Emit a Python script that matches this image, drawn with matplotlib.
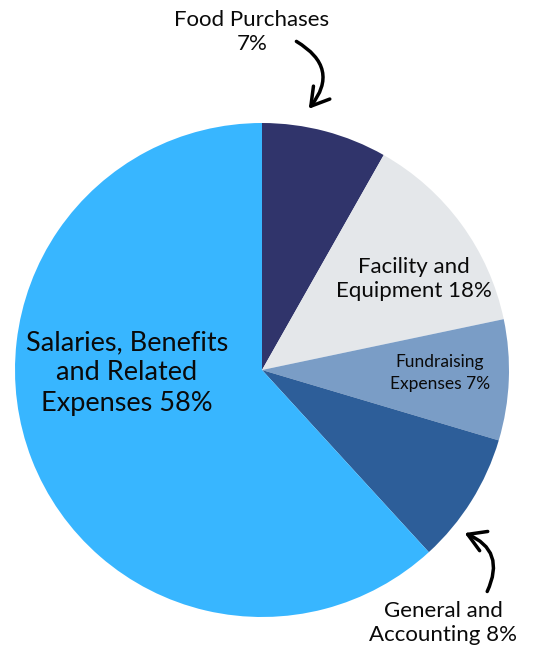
import numpy as np
import matplotlib.pyplot as plt
from matplotlib.patches import FancyArrowPatch

plt.rcParams['font.family'] = ['Lato', 'DejaVu Sans']

# slice shares as drawn (clockwise from 12 o'clock)
categories = ['Food Purchases', 'Facility and Equipment', 'Fundraising Expenses',
              'General and Accounting', 'Salaries, Benefits and Related Expenses']
shares = [8.2, 13.5, 7.9, 8.6, 61.8]
labels = ['Food Purchases\n7%', 'Facility and\nEquipment 18%', 'Fundraising\nExpenses 7%',
          'General and\nAccounting 8%', 'Salaries, Benefits\nand Related\nExpenses 58%']
colors = ['#30346b', '#e4e7ea', '#7a9dc6', '#2d5e99', '#38b6ff']

W, H = 534, 651
fig = plt.figure(figsize=(W / 100, H / 100), dpi=100)
ax = fig.add_axes([0, 0, 1, 1])

cx, cy, r = 262, H - 370, 247
ax.pie(shares, colors=colors, startangle=90, counterclock=False,
       center=(cx, cy), radius=r, frame=True,
       wedgeprops=dict(linewidth=0))
ax.set_xlim(0, W)
ax.set_ylim(0, H)
ax.set_aspect('equal')
ax.axis('off')

def py(y):
    return H - y

txt = dict(ha='center', va='center', color='#0a0a0a', fontweight='normal')
ax.text(252, py(32), labels[0], fontsize=16, linespacing=1.3, **txt)
ax.text(414, py(279), labels[1], fontsize=16, linespacing=1.3, **txt)
ax.text(440, py(373), labels[2], fontsize=12.5, linespacing=1.4, **txt)
ax.text(127, py(373), labels[4], fontsize=19.5, linespacing=1.25, **txt)
ax.text(443, py(623), labels[3], fontsize=16, linespacing=1.25, **txt)

arrow_kw = dict(arrowstyle='->,head_length=5,head_width=3', color='black',
                linewidth=2.5, mutation_scale=2.5, capstyle='round')
ax.add_patch(FancyArrowPatch((294, py(40)), (307, py(111)),
                             connectionstyle='arc3,rad=-0.6', **arrow_kw))
ax.add_patch(FancyArrowPatch((486, py(594)), (462, py(532)),
                             connectionstyle='arc3,rad=0.55', **arrow_kw))

fig.savefig('out.png', dpi=100)
